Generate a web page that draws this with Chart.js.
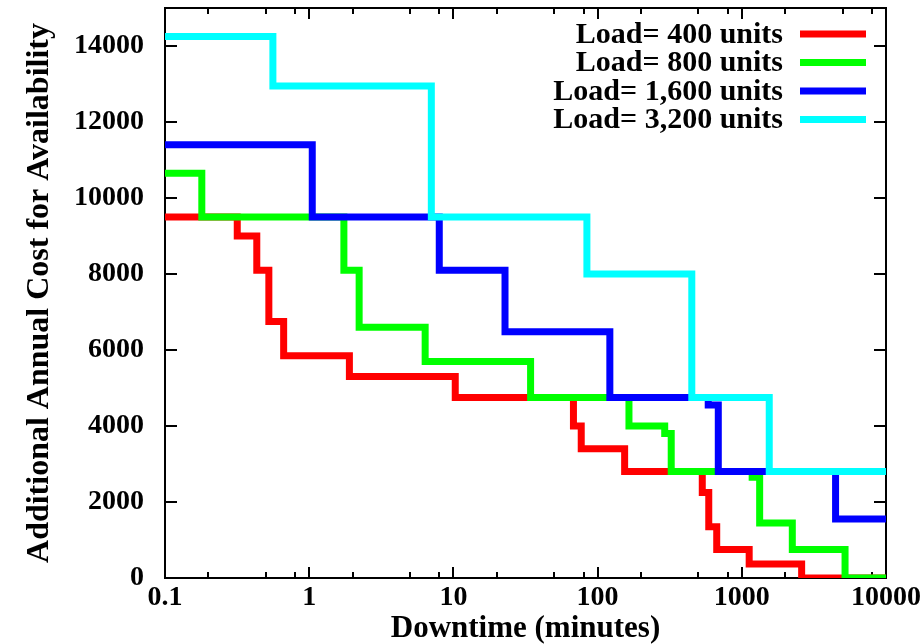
<!DOCTYPE html>
<html>
<head>
<meta charset="utf-8">
<script src="https://cdn.jsdelivr.net/npm/chart.js@4/dist/chart.umd.min.js"></script>
<style>
  html, body { margin: 0; padding: 0; background: #fff; }
  #wrap { width: 924px; height: 644px; }
</style>
</head>
<body>
<div id="wrap"><canvas id="chart" width="924" height="644"></canvas></div>
<script>
const seriesLabels = ['Load= 400 units', 'Load= 800 units', 'Load= 1,600 units', 'Load= 3,200 units'];
const seriesColors = ['#ff0000', '#00ff00', '#0000ff', '#00ffff'];

// downtime (minutes) where each cost level starts, and the cost level from there on
const redX = [0.1, 0.317, 0.433, 0.525, 0.665, 1.9, 10.3, 68, 77, 154, 532, 590, 670, 1125, 2600, 10000];
const redY = [9500, 9000, 8100, 6750, 5850, 5300, 4750, 4000, 3400, 2800, 2250, 1350, 750, 370, 0, 0];

const greenX = [0.1, 0.18, 1.74, 2.22, 6.37, 34.3, 165, 292, 324, 1180, 1330, 2240, 5200, 10000];
const greenY = [10650, 9500, 8100, 6600, 5700, 4750, 4000, 3800, 2800, 2650, 1450, 750, 0, 0];

const blueX = [0.1, 1.05, 7.98, 22.8, 121.6, 585, 687, 4470, 10000];
const blueY = [11400, 9500, 8100, 6480, 4750, 4550, 2800, 1550, 1550];

const cyanX = [0.1, 0.56, 7.03, 84.3, 450, 1550, 10000];
const cyanY = [14250, 12950, 9500, 8000, 4750, 2800, 2800];

const xTicks = [0.1, 1, 10, 100, 1000, 10000];
const xMinorTicks = [0.2, 0.5, 0.8, 2, 5, 8, 20, 50, 80, 200, 500, 800, 2000, 5000, 8000];
const yTicks = [0, 2000, 4000, 6000, 8000, 10000, 12000, 14000];

const fontFamily = '"Liberation Serif", "Times New Roman", serif';
const tickFont = { family: fontFamily, size: 28, weight: 'bold', lineHeight: 1 };
const titleFont = { family: fontFamily, size: 31, weight: 'bold', lineHeight: 1 };

function toPoints(xs, ys) {
    return xs.map((x, i) => ({ x: x, y: ys[i] }));
}

const allX = [redX, greenX, blueX, cyanX];
const allY = [redY, greenY, blueY, cyanY];

// cyan on top, red at the bottom
const datasets = seriesLabels.map((label, i) => ({
    label: label,
    data: toPoints(allX[i], allY[i]),
    borderColor: seriesColors[i],
    backgroundColor: seriesColors[i],
    borderWidth: 7,
    stepped: 'before',
    pointRadius: 0,
    fill: false,
    borderCapStyle: 'square',
    borderJoinStyle: 'miter',
    order: seriesLabels.length - i
}));

// frame with ticks pointing inwards, like the original plot
const frameTicks = {
    id: 'frameTicks',
    beforeDatasetsDraw(chart) {
        const { ctx, chartArea: a, scales: { x, y } } = chart;
        ctx.save();
        ctx.strokeStyle = '#000';
        ctx.lineWidth = 2;
        ctx.beginPath();
        xTicks.forEach(v => {
            const px = Math.round(x.getPixelForValue(v));
            ctx.moveTo(px, a.bottom); ctx.lineTo(px, a.bottom - 11);
            ctx.moveTo(px, a.top); ctx.lineTo(px, a.top + 11);
        });
        xMinorTicks.forEach(v => {
            const px = Math.round(x.getPixelForValue(v));
            ctx.moveTo(px, a.bottom); ctx.lineTo(px, a.bottom - 6);
            ctx.moveTo(px, a.top); ctx.lineTo(px, a.top + 6);
        });
        yTicks.forEach(v => {
            const py = Math.round(y.getPixelForValue(v));
            ctx.moveTo(a.left, py); ctx.lineTo(a.left + 12, py);
            ctx.moveTo(a.right, py); ctx.lineTo(a.right - 12, py);
        });
        ctx.moveTo(a.left, a.top);
        ctx.lineTo(a.right, a.top);
        ctx.lineTo(a.right, a.bottom);
        ctx.lineTo(a.left, a.bottom);
        ctx.closePath();
        ctx.stroke();
        ctx.restore();
    }
};

// key in the top right corner: text first, then the line sample
const keyBox = {
    id: 'keyBox',
    afterDraw(chart) {
        const { ctx, chartArea: a } = chart;
        ctx.save();
        ctx.font = 'bold 30px ' + fontFamily;
        ctx.textAlign = 'right';
        ctx.textBaseline = 'middle';
        chart.data.datasets.forEach((ds, i) => {
            const yy = a.top + 26 + i * 28.5;
            ctx.fillStyle = '#000';
            ctx.fillText(ds.label, a.right - 103, yy + 1);
            ctx.fillStyle = ds.borderColor;
            ctx.fillRect(a.right - 86, yy - 3.5, 66, 7);
        });
        ctx.restore();
    }
};

new Chart(document.getElementById('chart'), {
    type: 'line',
    data: { datasets: datasets },
    options: {
        responsive: false,
        animation: false,
        devicePixelRatio: 1,
        events: [],
        layout: { padding: { top: 8, right: 38, left: 0, bottom: 0 } },
        plugins: {
            legend: { display: false },
            tooltip: { enabled: false }
        },
        scales: {
            x: {
                type: 'logarithmic',
                position: 'bottom',
                min: 0.1,
                max: 10000,
                grid: { display: false },
                border: { display: false },
                ticks: {
                    color: '#000',
                    font: tickFont,
                    padding: -2,
                    autoSkip: false,
                    maxRotation: 0,
                    callback: v => String(v)
                },
                afterBuildTicks: s => { s.ticks = xTicks.map(v => ({ value: v })); },
                afterFit: s => { s.height = 66; s.paddingLeft = 0; s.paddingRight = 0; },
                title: {
                    display: true,
                    text: 'Downtime (minutes)',
                    color: '#000',
                    font: titleFont,
                    padding: { top: 0, bottom: 0 }
                }
            },
            y: {
                type: 'linear',
                min: 0,
                max: 15000,
                grid: { display: false },
                border: { display: false },
                ticks: {
                    color: '#000',
                    font: tickFont,
                    padding: 13,
                    callback: v => String(v)
                },
                afterBuildTicks: s => { s.ticks = yTicks.map(v => ({ value: v })); },
                afterFit: s => { s.width = 165; s.paddingTop = 0; s.paddingBottom = 0; },
                title: {
                    display: true,
                    text: 'Additional Annual Cost for Availability',
                    color: '#000',
                    font: { family: fontFamily, size: 32, weight: 'bold', lineHeight: 1 },
                    padding: { top: 24, bottom: 0 }
                }
            }
        }
    },
    plugins: [frameTicks, keyBox]
});
</script>
</body>
</html>
